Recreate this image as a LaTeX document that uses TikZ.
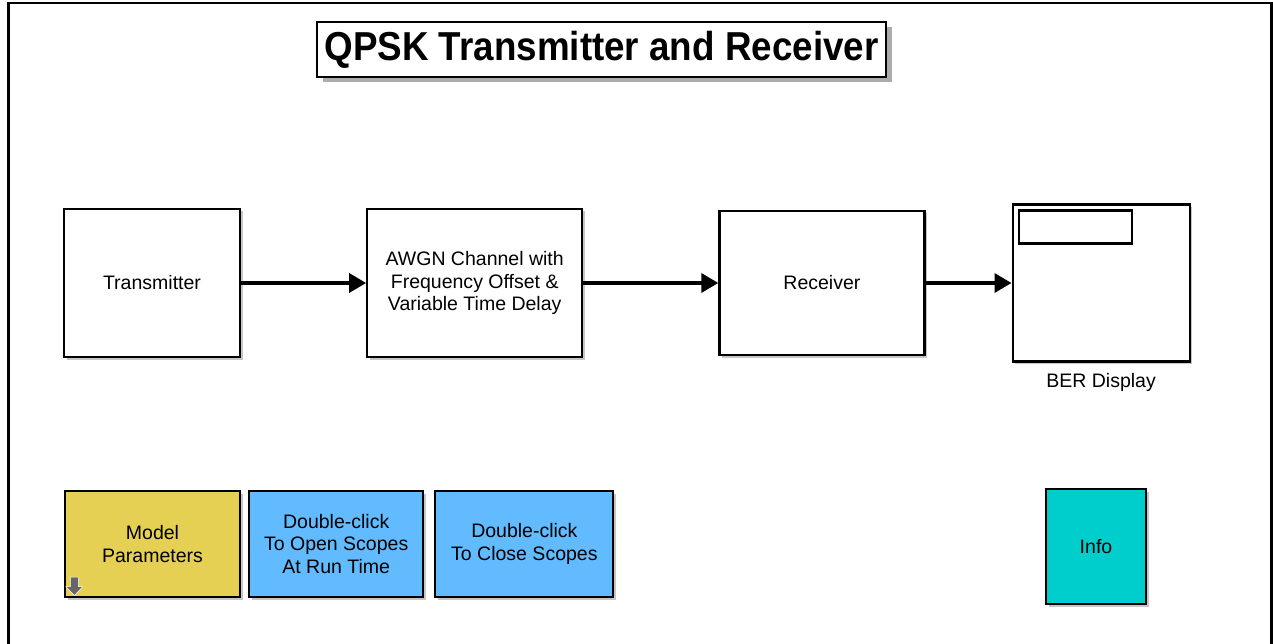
\documentclass[tikz,border=0pt]{standalone}
\usepackage{fontspec}
\setmainfont{Liberation Sans}
\newfontfamily\titlefont{Liberation Sans}[FakeStretch=0.91]
\usepackage{tikz}
\usetikzlibrary{arrows.meta, shadows, calc, positioning}
\definecolor{paramyellow}{RGB}{230,208,84}
\definecolor{scopeblue}{RGB}{98,186,255}
\definecolor{infocyan}{RGB}{0,206,204}
\tikzstyle{block} = [rectangle, line width=1.25pt, align=center, draw=black, fill=white, font=\fontsize{11.1}{13}\selectfont, drop shadow={shadow xshift=0.05cm, shadow yshift=-0.05cm, opacity=0.45}]
\tikzstyle{button} = [block, minimum width=3.5cm, minimum height=2.12cm]
\tikzstyle{title} = [rectangle, line width=1.25pt, draw=black, fill=white, font=\titlefont\fontsize{23}{27}\selectfont\bfseries, drop shadow={shadow xshift=0.11cm, shadow yshift=-0.11cm, opacity=0.65}]
\tikzstyle{arrow} = [line width=2pt, -{Triangle[length=0.34cm, width=0.38cm]}]

\begin{document}
\begin{tikzpicture}[node distance = 10mm, auto]
	\useasboundingbox (0,0) rectangle (25.46,-12.88);
	\draw [line width=1.4pt] (0.17,-12.88) -- (0.17,-0.06) -- (25.43,-0.06) -- (25.43,-12.88);
	\node (Title) [title, minimum width=11.38cm, minimum height=1.1cm] at (12.03,-0.99) {QPSK Transmitter and Receiver};
	\node (Transmitter) [block, minimum width=3.52cm, minimum height=2.96cm] at (3.04,-5.66) {Transmitter};
	\node (Channel) [block, minimum width=4.3cm, minimum height=2.96cm, right = 2.50cm of Transmitter] {AWGN Channel with\\Frequency Offset \&\\Variable Time Delay};
	\node (Receiver) [block, minimum width=4.1cm, minimum height=2.88cm, right = 2.70cm of Channel] {Receiver};
	\node (BER) [block, minimum width=3.54cm, minimum height=3.14cm, right = 1.72cm of Receiver] {};
	\node (BERValue) [rectangle, draw, line width=1.25pt, minimum width=2.26cm, minimum height=0.66cm, anchor=north west] at ([shift={(0.12,-0.12)}]BER.north west) {};
	\node (BERLabel) [below = 0.1cm of BER, font=\fontsize{11.1}{13}\selectfont] {BER Display};
	\node (ModelParams) [button, fill=paramyellow] at (3.05,-10.88) {Model\\Parameters};
	\node (OpenScopes) [button, fill=scopeblue, minimum width=3.48cm, right = 0.14cm of ModelParams] {Double-click\\To Open Scopes\\At Run Time};
	\node (CloseScopes) [button, fill=scopeblue, minimum width=3.56cm, right = 0.20cm of OpenScopes] {Double-click\\To Close Scopes};
	\node (Info) [block, fill=infocyan, minimum width=2cm, minimum height=2.3cm] at (21.92,-10.93) {Info};
	\draw [fill=gray!80!black, draw=white, line width=0.3pt] ([shift={(0.13,0.42)}]ModelParams.south west) -- ++(0.16,0) -- ++(0,-0.19) -- ++(0.09,0) -- ++(-0.17,-0.18) -- ++(-0.17,0.18) -- ++(0.09,0) -- cycle;
	\draw [arrow] (Transmitter) -- (Channel);
	\draw [arrow] (Channel) -- (Receiver);
	\draw [arrow] (Receiver) -- (BER);
	
\end{tikzpicture}
\end{document}
